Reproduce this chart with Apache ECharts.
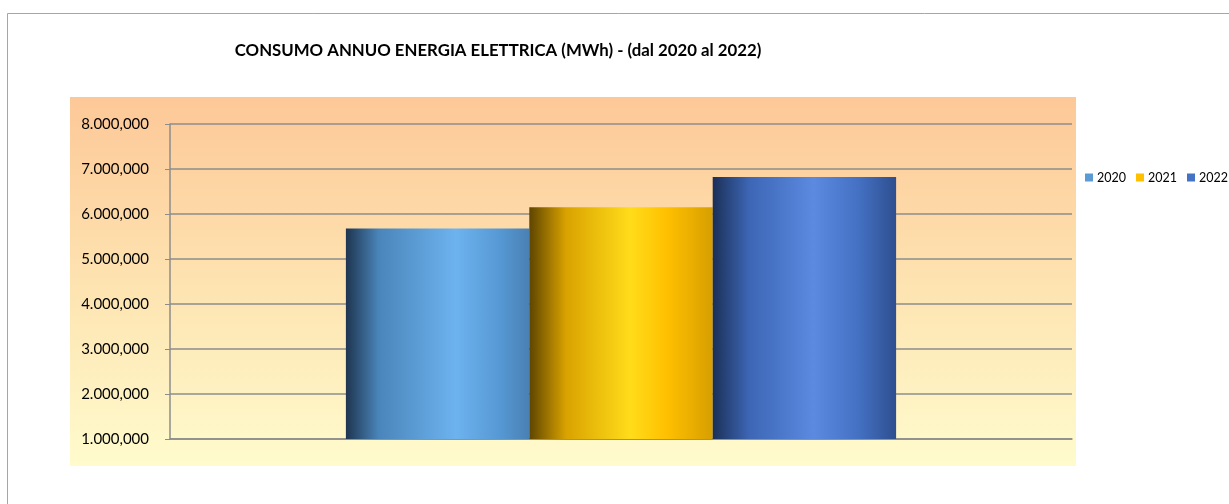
<!DOCTYPE html>
<html><head><meta charset="utf-8">
<script src="https://cdn.jsdelivr.net/npm/echarts@6/dist/echarts.min.js"></script>
<style>html,body{margin:0;padding:0;background:#fff}#c{width:1229px;height:504px}</style>
</head><body><div id="c"></div>
<script>
const categories = [''];
const seriesNames = ['2020', '2021', '2022'];
const values2020 = [5680000];
const values2021 = [6150000];
const values2022 = [6820000];
const legendColors = ['#5b9bd5', '#ffc000', '#4472c4'];

function fmt(v){
  const s = String(Math.round(v));
  const m = s.slice(0, s.length - 6), rest = s.slice(s.length - 6);
  return m + '.' + rest.slice(0,3) + ',' + rest.slice(3);
}
function grad(stops){
  return {type:'linear', x:0, y:0, x2:1, y2:0, colorStops: stops.map(s=>({offset:s[0], color:s[1]}))};
}
const barFills = [
  grad([[0,'#1e3550'],[0.18,'#4a85ba'],[0.6,'#6db3ef'],[0.85,'#5597d2'],[1,'#4a80b3']]),
  grad([[0,'#5e4500'],[0.2,'#d9a200'],[0.55,'#ffdc1a'],[0.75,'#ffc000'],[1,'#d79f00']]),
  grad([[0,'#1b3058'],[0.2,'#3d66b5'],[0.55,'#5b8ae0'],[0.8,'#4470c2'],[1,'#2e4f8f']])
];
const dataSets = [values2020, values2021, values2022];

const chart = echarts.init(document.getElementById('c'), null, {renderer:'canvas'});
chart.setOption({
  animation:false,
  textStyle:{fontFamily:'Lato'},
  graphic:[
    {type:'rect', z:-10, shape:{x:7.5, y:13.5, width:1240, height:520}, style:{fill:'#fff', stroke:'#a6a6a6', lineWidth:1}},
    {type:'rect', z:-9, shape:{x:70, y:97, width:1006, height:369},
     style:{fill:{type:'linear',x:0,y:0,x2:0,y2:1,colorStops:[{offset:0,color:'#fdc898'},{offset:0.5,color:'#fde3b0'},{offset:1,color:'#fffbcd'}]}}}
  ],
  title:{text:'CONSUMO ANNUO ENERGIA ELETTRICA (MWh) - (dal 2020 al 2022)', left:493, top:37, textAlign:'center',
    textStyle:{fontSize:16.8, fontWeight:'bold', color:'#000', fontFamily:'Lato'}},
  legend:{data:seriesNames.map((n,i)=>({name:n, itemStyle:{color:legendColors[i]}})), left:1085, top:171, padding:0, width:200, itemWidth:8, itemHeight:8, itemGap:10,
    icon:'rect', textStyle:{fontSize:12.5, color:'#000', fontFamily:'Lato', padding:[0,0,0,-1]}},
  grid:{left:170, right:157, top:124, bottom:65},
  xAxis:{type:'category', data:categories, axisLabel:{show:false}, axisTick:{show:false},
    axisLine:{lineStyle:{color:'#8c8c8c', width:1.5}}},
  yAxis:{type:'value', min:1000000, max:8000000, interval:1000000,
    axisLine:{show:true, lineStyle:{color:'#8c8c8c', width:1.5}},
    axisTick:{show:true, length:5, lineStyle:{color:'#8c8c8c'}},
    splitLine:{lineStyle:{color:'#8c8c8c', width:1.5}},
    axisLabel:{formatter:fmt, fontSize:15, color:'#000', margin:21, fontFamily:'Lato'}},
  series: seriesNames.map((n,i)=>({
    name:n, type:'bar', data:dataSets[i], barGap:'0%', barCategoryGap:'39%',
    itemStyle:{color:barFills[i]}
  }))
});
</script></body></html>
